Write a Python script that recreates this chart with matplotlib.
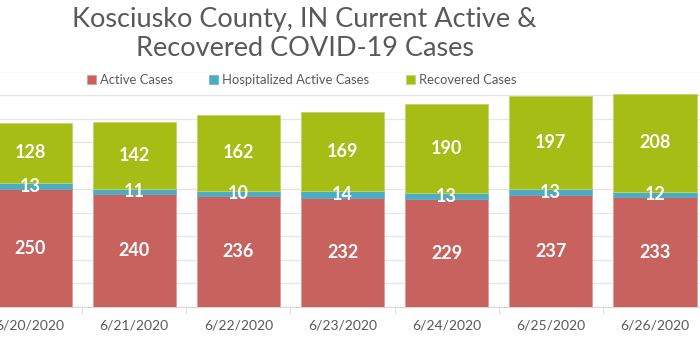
import matplotlib
matplotlib.use("Agg")
import matplotlib.pyplot as plt
import numpy as np

dates = ["6/20/2020", "6/21/2020", "6/22/2020", "6/23/2020", "6/24/2020", "6/25/2020", "6/26/2020"]
active = [250, 240, 236, 232, 229, 237, 233]
hospitalized = [13, 11, 10, 14, 13, 13, 12]
recovered = [128, 142, 162, 169, 190, 197, 208]
series_names = ["Active Cases", "Hospitalized Active Cases", "Recovered Cases"]

plt.rcParams['font.family'] = ['Lato', 'DejaVu Sans']

c_act = "#C8625F"
c_hos = "#4BACC6"
c_rec = "#A5BD14"
gray = "#595959"

fig = plt.figure(figsize=(7, 3.5), dpi=100)
W, H = 700, 350
left_px, right_px = -22, 707
top_px, bot_px = 71.5, 307
ax = fig.add_axes([left_px / W, 1 - bot_px / H, (right_px - left_px) / W, (bot_px - top_px) / H])

x = np.arange(len(dates))
bw = 0.8
b1 = ax.bar(x, active, bw, color=c_act, edgecolor="#E09A98", linewidth=0.6, zorder=3, label=series_names[0])
b2 = ax.bar(x, hospitalized, bw, bottom=active, color=c_hos, edgecolor=c_hos, linewidth=0.4, zorder=3, label=series_names[1])
bot3 = [a + h for a, h in zip(active, hospitalized)]
b3 = ax.bar(x, recovered, bw, bottom=bot3, color=c_rec, edgecolor="#C4D46A", linewidth=0.6, zorder=3, label=series_names[2])

for bars, vals, bots in [(b1, active, [0]*7), (b2, hospitalized, active), (b3, recovered, bot3)]:
    for rect, v, b in zip(bars, vals, bots):
        ax.text(rect.get_x() + rect.get_width() / 2, b + v / 2, str(v), ha="center", va="center",
                color="white", fontsize=13, fontweight="bold", zorder=5)

ax.set_xlim(-0.5, len(dates) - 0.5)
ax.set_ylim(0, 500)
ax.set_yticks(np.arange(0, 501, 50))
ax.yaxis.grid(True, color="#E6E6E6", linewidth=1, zorder=0)
ax.set_axisbelow(True)
for s in ["top", "right", "left"]:
    ax.spines[s].set_visible(False)
ax.spines["bottom"].set_color("#D9D9D9")
ax.tick_params(axis="y", left=False, labelleft=False)
ax.set_xticks(x)
ax.set_xticklabels(dates, color=gray, fontsize=10)
ax.tick_params(axis="x", length=0, pad=9)
ax.set_xticks(np.arange(-0.5, len(dates), 1), minor=True)
ax.tick_params(axis="x", which="minor", length=5, color="#D9D9D9")

fig.text(0.435, 0.945, "Kosciusko County, IN Current Active &", ha="center", va="center",
         fontsize=19.5, color=gray)
fig.text(0.435, 0.86, "Recovered COVID-19 Cases", ha="center", va="center",
         fontsize=19.5, color=gray)

leg = fig.legend(handles=[b1, b2, b3], labels=series_names, loc="center", bbox_to_anchor=(0.431, 1 - 80 / H),
                 ncol=3, frameon=False, fontsize=9.4, handlelength=0.7, handleheight=0.7,
                 handletextpad=0.3, columnspacing=2.8, labelcolor=gray)

fig.savefig("out.png", dpi=100)
